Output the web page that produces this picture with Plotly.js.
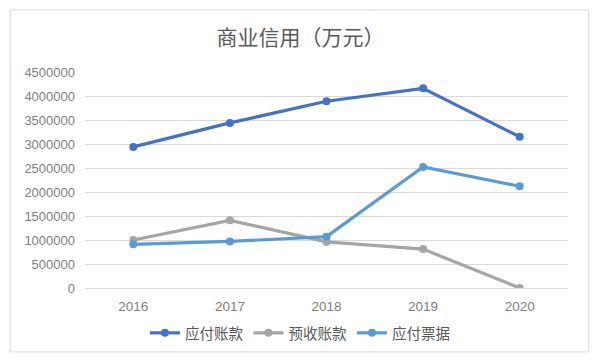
<!DOCTYPE html>
<html>
<head>
<meta charset="utf-8">
<script src="https://cdn.plot.ly/plotly-3.0.1.min.js"></script>
<style>html,body{margin:0;padding:0;background:#fff;}#chart{width:601px;height:363px;}</style>
</head>
<body>
<div id="chart"></div>
<script>
var years = ['2016', '2017', '2018', '2019', '2020'];
var seriesNames = ['应付账款', '预收账款', '应付票据'];
var accountsPayable = [2940000, 3440000, 3890000, 4160000, 3150000];
var advanceReceipts = [1000000, 1410000, 960000, 810000, 0];
var notesPayable = [910000, 970000, 1070000, 2520000, 2120000];
var yTicks = [0, 500000, 1000000, 1500000, 2000000, 2500000, 3000000, 3500000, 4000000, 4500000];

var colors = ['#4472C4', '#A5A5A5', '#5B9BD5'];
var values = [accountsPayable, advanceReceipts, notesPayable];
var traces = values.map(function (v, i) {
  return {
    x: years, y: v, name: seriesNames[i], type: 'scatter', mode: 'lines+markers',
    line: {color: colors[i], width: 3.2},
    marker: {color: colors[i], size: 8, symbol: 'circle'}
  };
});

var layout = {
  width: 601, height: 363,
  margin: {l: 85, r: 33, t: 72, b: 75},
  paper_bgcolor: '#fff', plot_bgcolor: '#fff',
  font: {family: '"Liberation Sans", "Noto Sans CJK SC", sans-serif', color: '#7f7f7f', size: 13},
  title: {text: '商业信用（万元）', x: 0.5, xanchor: 'center', y: 0.895, yanchor: 'middle',
          font: {family: '"Noto Sans CJK SC", sans-serif', size: 21, color: '#595959'}},
  xaxis: {type: 'category', range: [-0.5, 4.5], showgrid: false, zeroline: false,
          showline: false, ticks: '', ticklabelstandoff: 8, tickfont: {size: 13.5, color: '#7f7f7f'}, fixedrange: true},
  yaxis: {range: [0, 4500000], tickvals: yTicks, ticktext: yTicks.map(String),
          showgrid: true, gridcolor: '#d9d9d9', gridwidth: 1, zeroline: true, zerolinecolor: '#d9d9d9',
          showline: false, ticks: '', ticklabelstandoff: 9, tickfont: {size: 13, color: '#7f7f7f'}, fixedrange: true},
  showlegend: true,
  legend: {orientation: 'h', x: 0.445, xanchor: 'center', y: -0.208, yanchor: 'middle',
           font: {family: '"Noto Sans CJK SC", sans-serif', size: 14.5, color: '#595959'}, traceorder: 'normal'},
  shapes: [{type: 'rect', xref: 'paper', yref: 'paper', x0: -0.155, x1: 1.043, y0: -0.296, y1: 1.287,
            line: {color: '#d9d9d9', width: 1}, fillcolor: 'rgba(0,0,0,0)', layer: 'below'}]
};

Plotly.newPlot('chart', traces, layout, {displayModeBar: false, staticPlot: true});
</script>
</body>
</html>
